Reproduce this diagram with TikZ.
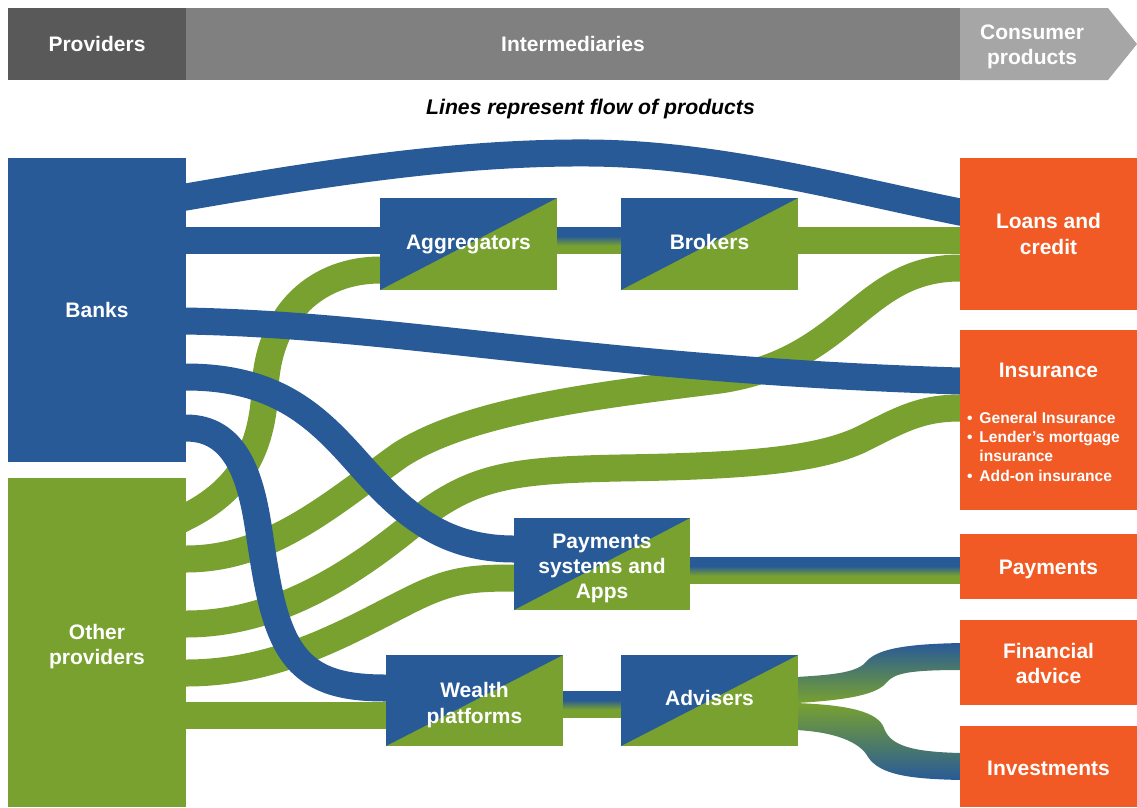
\documentclass[tikz,border=0pt]{standalone}
\usepackage{fontspec}
\setmainfont{Liberation Sans}
\usetikzlibrary{calc}
\definecolor{cblue}{RGB}{40,90,152}
\definecolor{cgreen}{RGB}{120,161,48}
\definecolor{corange}{RGB}{241,90,36}
\definecolor{gdark}{RGB}{89,89,89}
\definecolor{gmid}{RGB}{128,128,128}
\definecolor{glight}{RGB}{166,166,166}
\pgfdeclarelayer{bg}
\pgfsetlayers{bg,main}
\newcommand\bigtxt{\fontsize{21}{25.3}\selectfont\bfseries}
\newcommand\smalltxt{\fontsize{15.6}{19.4}\selectfont\bfseries}
\newcommand\dn[2]{\raisebox{-#1}[\height][\depth]{\begin{tabular}{@{}c@{}}#2\end{tabular}}}
\begin{document}
\begin{tikzpicture}[x=1pt,y=-1pt,
  box/.style={rectangle, inner sep=0pt, outer sep=0pt, text=white, font=\bigtxt, align=center},
  split/.style={box, fill=cgreen, minimum width=177pt, minimum height=92pt,
    path picture={\fill[cblue] (path picture bounding box.north west) -- (path picture bounding box.north east) -- (path picture bounding box.south west) -- cycle;}},
  prod/.style={box, fill=corange, minimum width=177pt},
  bband/.style={draw=cblue, line width=27pt, line cap=rect},
  gband/.style={draw=cgreen, line width=27pt, line cap=rect}]
\useasboundingbox (0,0) rectangle (1137,807);
% header
\node[box, fill=gdark, minimum width=178pt, minimum height=72pt] (hprov) at (97,44) {Providers};
\node[box, fill=gmid, minimum width=774pt, minimum height=72pt] (hint) at (573,44) {Intermediaries};
\fill[glight] (hint.north east) -- ++(148,0) -- (1137,44) -- (1108,80) -- (hint.south east) -- cycle;
\node[box] (hcons) at (1032,44) {\dn{3pt}{Consumer\\products}};
\node[font=\fontsize{21.2}{25}\selectfont\bfseries\itshape] (sub) at (590.5,109) {Lines represent flow of products};
% providers
\node[box, fill=cblue, minimum width=178pt, minimum height=304pt] (banks) at (97,310) {Banks};
\node[box, fill=cgreen, minimum width=178pt, minimum height=329pt] (others) at (97,642.5) {\dn{4.5pt}{Other\\providers}};
% intermediaries
\node[split] (agg) at (468.5,244) {Aggregators};
\node[split] (brok) at (709.5,244) {\dn{0pt}{Brokers}};
\node[split, minimum width=176pt] (pay) at (602,564) {\dn{4.5pt}{Payments\\systems and\\Apps}};
\node[split, minimum height=91pt] (wealth) at (474.5,700.5) {\dn{5pt}{Wealth\\platforms}};
\node[split, minimum height=91pt] (adv) at (709.5,700.5) {\dn{0pt}{Advisers}};
% products
\node[prod, minimum height=152pt] (loans) at (1048.5,234) {\dn{2.5pt}{Loans and\\credit}};
\node[prod, minimum height=180pt] (ins) at (1048.5,420) {};
\node[box] (instit) at ($(ins.north)+(0,40)$) {Insurance};
\node[box, anchor=base west, font=\smalltxt, align=left] (insl) at ($(ins.north west)+(7,93)$)
  {\begin{tabular}[t]{@{}l@{\hspace{7pt}}l@{}}•&General Insurance\\•&Lender’s mortgage\\&insurance\\•&Add-on insurance\end{tabular}};
\node[prod, minimum height=65pt] (paym) at (1048.5,566.5) {\dn{2.5pt}{Payments}};
\node[prod, minimum height=85pt] (fin) at (1048.5,662.5) {\dn{3.5pt}{Financial\\advice}};
\node[prod, minimum height=81pt] (inv) at (1048.5,766.5) {\dn{4pt}{Investments}};
\begin{pgfonlayer}{bg}
% green flows
\draw[gband] ($(others.north east)+(0,39)$) .. controls (240,490) and (262,450) .. (265,390) .. controls (268,310) and (320,270) .. ($(agg.north west)+(0,72)$);
\draw[gband] ($(others.north east)+(0,81)$) .. controls (270,559) and (330,505) .. (400,455) .. controls (470,410) and (600,395) .. (720,380) .. controls (850,360) and (860,268) .. ($(loans.north west)+(0,110)$);
\draw[gband] ($(others.north east)+(0,146)$) .. controls (280,624) and (360,570) .. (430,510) .. controls (480,475) and (520,470) .. (620,468) .. controls (760,466) and (820,458) .. (860,440) .. controls (900,420) and (920,408) .. ($(ins.north west)+(0,78)$);
\draw[gband] ($(others.north east)+(0,195)$) .. controls (280,673) and (350,630) .. (410,600) .. controls (450,580) and (470,578) .. ($(pay.north west)+(0,60)$);
\draw[gband] ($(others.north east)+(0,237)$) -- ($(wealth.north west)+(0,60)$);
\draw[gband] ($(brok.north east)+(0,42.5)$) -- ($(loans.north west)+(0,82.5)$);
% blue flows
\draw[bband] ($(banks.north east)+(0,39)$) .. controls (330,172) and (460,152) .. (590,153) .. controls (720,154) and (850,190) .. ($(loans.north west)+(0,54)$);
\draw[bband] ($(banks.north east)+(0,82.5)$) -- ($(agg.north west)+(0,42.5)$);
\draw[bband] ($(banks.north east)+(0,163)$) .. controls (400,325) and (600,370) .. ($(ins.north west)+(0,51)$);
\draw[bband] ($(banks.north east)+(0,219)$) .. controls (280,377) and (320,420) .. (360,465) .. controls (400,510) and (440,549) .. ($(pay.north west)+(0,31)$);
\draw[bband] ($(banks.north east)+(0,270)$) .. controls (235,428) and (250,475) .. (258,525) .. controls (265,570) and (270,610) .. (285,640) .. controls (305,680) and (340,688) .. ($(wealth.north west)+(0,33)$);
% mixed flows
\fill[cgreen] ($(agg.north east)+(-2,29)$) rectangle ($(brok.north west)+(2,56)$);
\fill[cblue] ($(agg.north east)+(-2,29)$) rectangle ($(brok.north west)+(2,38.5)$);
\shade[top color=cblue, bottom color=cgreen] ($(agg.north east)+(-2,38)$) rectangle ($(brok.north west)+(2,47.5)$);
\fill[cgreen] ($(pay.north east)+(-2,39)$) rectangle ($(paym.north west)+(2,50)$);
\fill[cblue] ($(pay.north east)+(-2,39)$) rectangle ($(paym.north west)+(2,32.5)$);
\shade[top color=cblue, bottom color=cgreen] ($(pay.north east)+(-2,48)$) rectangle ($(paym.north west)+(2,41.5)$);
\fill[cgreen] ($(wealth.north east)+(-2,36)$) rectangle ($(adv.north west)+(2,63)$);
\fill[cblue] ($(wealth.north east)+(-2,36)$) rectangle ($(adv.north west)+(2,45.5)$);
\shade[top color=cblue, bottom color=cgreen] ($(wealth.north east)+(-2,45)$) rectangle ($(adv.north west)+(2,54.5)$);
\shade[top color=cblue, bottom color=cgreen] ($(adv.north east)+(-2,22)$) .. controls (830,675) and (855,673) .. (865,663) .. controls (875,650) and (900,644) .. ($(fin.north west)+(2,23)$) -- ($(fin.north west)+(2,50)$) .. controls (910,670) and (895,673) .. (887,682) .. controls (878,694) and (850,700) .. ($(adv.north east)+(-2,48)$) -- cycle;
\shade[top color=cgreen, bottom color=cblue] ($(adv.north east)+(-2,48)$) .. controls (850,705) and (878,712) .. (884,728) .. controls (890,745) and (910,752) .. ($(inv.north west)+(2,27)$) -- ($(inv.north west)+(2,54)$) .. controls (910,779) and (880,775) .. (868,757) .. controls (860,742) and (835,732) .. ($(adv.north east)+(-2,75)$) -- cycle;
\end{pgfonlayer}
\end{tikzpicture}
\end{document}
